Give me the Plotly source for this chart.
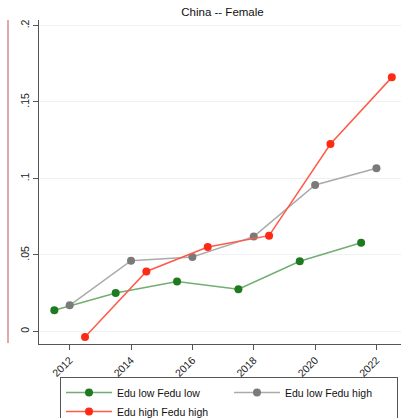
import plotly.graph_objects as go

title_text = "China -- Female"

# Series: Edu low Fedu low
years_ll = [2011.5, 2013.5, 2015.5, 2017.5, 2019.5, 2021.5]
vals_ll = [0.0139, 0.0252, 0.0326, 0.0276, 0.0459, 0.0580]

# Series: Edu low Fedu high
years_lh = [2012, 2014, 2016, 2018, 2020, 2022]
vals_lh = [0.0171, 0.0463, 0.0487, 0.0620, 0.0958, 0.1067]

# Series: Edu high Fedu high
years_hh = [2012.5, 2014.5, 2016.5, 2018.5, 2020.5, 2022.5]
vals_hh = [-0.0036, 0.0392, 0.0552, 0.0626, 0.1225, 0.1661]

x_ticks = [2012, 2014, 2016, 2018, 2020, 2022]
y_ticks = [0, 0.05, 0.1, 0.15, 0.2]
y_tick_labels = ["0", ".05", ".1", ".15", ".2"]

FONT = "Liberation Sans, Arial, Helvetica, sans-serif"

fig = go.Figure()
fig.add_trace(go.Scatter(
    x=years_ll, y=vals_ll, mode="lines+markers", name="Edu low Fedu low",
    line=dict(color="#72ad72", width=1.5),
    marker=dict(color="#1f7a1f", size=8),
))
fig.add_trace(go.Scatter(
    x=years_lh, y=vals_lh, mode="lines+markers", name="Edu low Fedu high",
    line=dict(color="#aaaaaa", width=1.5),
    marker=dict(color="#7a7a7a", size=8),
))
fig.add_trace(go.Scatter(
    x=years_hh, y=vals_hh, mode="lines+markers", name="Edu high Fedu high",
    line=dict(color="#ff5a48", width=1.5),
    marker=dict(color="#ff2a14", size=8),
))

fig.update_layout(
    width=402, height=418,
    margin=dict(l=39, r=1, t=20, b=74, autoexpand=False),
    paper_bgcolor="white", plot_bgcolor="white",
    font=dict(family=FONT, size=11, color="#222222"),
    title=dict(text=title_text, font=dict(size=11.5, color="#111111"),
               x=222.5 / 402, xanchor="center", xref="container",
               y=1 - 12 / 418, yanchor="middle", yref="container"),
    xaxis=dict(
        range=[2011.0, 2022.8], tickvals=x_ticks, ticktext=[str(v) for v in x_ticks],
        tickangle=-45, showgrid=False, zeroline=False, automargin=False,
        showline=True, linecolor="#555555", linewidth=1,
        ticks="outside", ticklen=5, tickcolor="#555555",
        tickfont=dict(size=10.5, color="#222222"),
    ),
    yaxis=dict(
        range=[-0.0082, 0.2036], tickvals=y_ticks, ticktext=y_tick_labels,
        tickangle=-90, showgrid=True, gridcolor="#edf3f2", gridwidth=1,
        zeroline=False, showline=True, linecolor="#555555", linewidth=1,
        automargin=False,
        ticks="outside", ticklen=5, tickcolor="#555555",
        tickfont=dict(size=10.5, color="#222222"),
    ),
    legend=dict(
        orientation="h", x=(60 - 39) / 362, xanchor="left",
        y=(344 - 377) / 324, yanchor="top",
        bordercolor="#555555", borderwidth=1, bgcolor="white",
        font=dict(size=10.5, color="#111111"),
        entrywidth=107, entrywidthmode="pixels", itemwidth=46,
        tracegroupgap=0,
    ),
    shapes=[dict(type="line", xref="paper", yref="paper",
                 x0=(8 - 39) / 362, x1=(8 - 39) / 362, y0=0.003, y1=1.0,
                 line=dict(color="#d9888f", width=1.5))],
)

fig.write_html("out.html",
               config={"displayModeBar": False},
               post_script="document.body.style.margin='0';document.body.style.overflow='hidden';")
